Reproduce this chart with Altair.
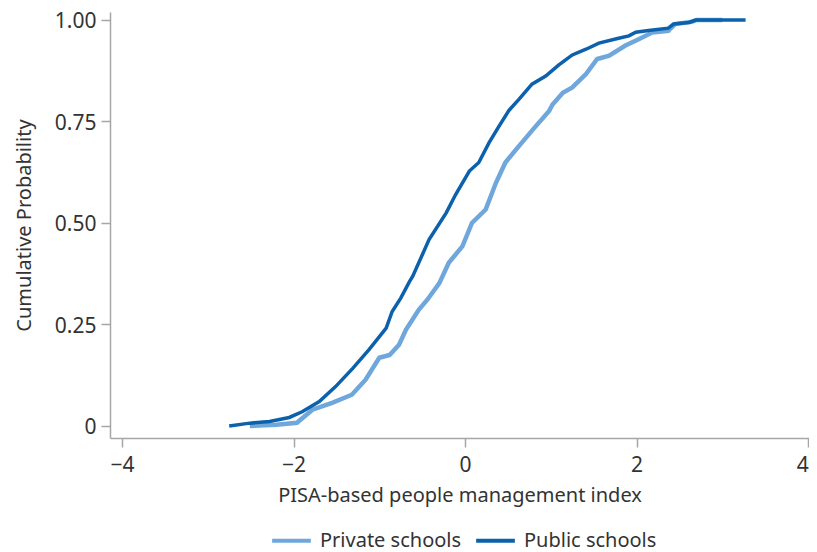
import altair as alt
import pandas as pd

# Public schools CDF
public_x = [-2.75, -2.51, -2.28, -2.05, -1.90, -1.70, -1.51, -1.31, -1.12, -0.92,
            -0.85, -0.75, -0.65, -0.61, -0.42, -0.22, -0.11, 0.05, 0.16, 0.28,
            0.40, 0.51, 0.63, 0.78, 0.94, 1.09, 1.25, 1.41, 1.56, 1.79,
            1.91, 1.99, 2.14, 2.37, 2.43, 2.61, 2.69, 3.27]
public_y = [0.0, 0.007, 0.011, 0.021, 0.035, 0.060, 0.097, 0.142, 0.188, 0.241,
            0.282, 0.315, 0.355, 0.369, 0.459, 0.525, 0.570, 0.628, 0.649, 0.698,
            0.740, 0.777, 0.805, 0.842, 0.862, 0.889, 0.914, 0.928, 0.943, 0.955,
            0.961, 0.970, 0.974, 0.980, 0.990, 0.994, 1.0, 1.0]

# Private schools CDF
private_x = [-2.51, -2.20, -1.96, -1.78, -1.55, -1.32, -1.16, -1.00, -0.88, -0.77,
             -0.69, -0.54, -0.44, -0.30, -0.19, -0.03, 0.08, 0.24, 0.36, 0.47,
             0.63, 0.81, 0.98, 1.02, 1.14, 1.25, 1.41, 1.54, 1.68, 1.87,
             2.03, 2.18, 2.37, 2.41, 2.45, 2.65, 2.70, 3.00]
private_y = [0.0, 0.003, 0.008, 0.040, 0.057, 0.077, 0.114, 0.168, 0.175, 0.200,
             0.237, 0.286, 0.311, 0.352, 0.402, 0.443, 0.500, 0.533, 0.599, 0.649,
             0.690, 0.735, 0.776, 0.792, 0.821, 0.834, 0.867, 0.904, 0.912, 0.937,
             0.953, 0.969, 0.973, 0.982, 0.990, 0.996, 1.0, 1.0]

series = ["Private schools", "Public schools"]
colors = ["#6fa7dc", "#0b61ab"]

df = pd.concat([
    pd.DataFrame({"x": private_x, "y": private_y, "group": series[0], "order": range(len(private_x))}),
    pd.DataFrame({"x": public_x, "y": public_y, "group": series[1], "order": range(len(public_x))}),
])

FONT = "Noto Sans"
TXT = "#333333"
FS = 20

color = alt.Color(
    "group:N",
    scale=alt.Scale(domain=series, range=colors),
    legend=alt.Legend(
        title=None, orient="none", direction="horizontal",
        legendX=160, legendY=507,
        symbolType="stroke", symbolSize=1500, symbolStrokeWidth=4,
        labelFont=FONT, labelFontSize=FS, labelColor=TXT,
        labelOffset=7, columnPadding=6,
    ),
)

x = alt.X("x:Q", scale=alt.Scale(domain=[-4.14, 4.01], nice=False, zero=False),
          axis=alt.Axis(title="PISA-based people management index", values=[-4, -2, 0, 2, 4],
                        format="d", grid=False))
y = alt.Y("y:Q", scale=alt.Scale(domain=[-0.0296, 1.0197], nice=False, zero=False),
          axis=alt.Axis(title="Cumulative Probability", values=[0, 0.25, 0.5, 0.75, 1.0],
                        labelExpr="datum.value == 0 ? '0' : format(datum.value, '.2f')",
                        grid=False, labelFlush=False, labelOffset=2))

private_line = alt.Chart(df[df.group == series[0]]).mark_line(strokeWidth=4.5).encode(
    x=x, y=y, color=color, order="order:Q")
public_line = alt.Chart(df[df.group == series[1]]).mark_line(strokeWidth=3.5).encode(
    x=x, y=y, color=color, order="order:Q")

chart = alt.layer(private_line, public_line).properties(
    width=699, height=426,
    autosize=alt.AutoSizeParams(type="none"),
    padding={"left": 102, "top": 4, "right": 0, "bottom": 114},
).configure_view(stroke=None).configure_axis(
    domainColor="#a6a6a6", tickColor="#a6a6a6", domainWidth=1.5, tickWidth=1.5, tickSize=9,
    labelFont=FONT, labelFontSize=21, labelColor=TXT, titleFont=FONT, titleFontSize=FS,
    titleColor=TXT, titleFontWeight="normal",
).configure_axisX(labelPadding=7, titlePadding=10).configure_axisY(labelPadding=5, titlePadding=20)

chart.save("out.html", embed_options={"renderer": "svg", "actions": False})
